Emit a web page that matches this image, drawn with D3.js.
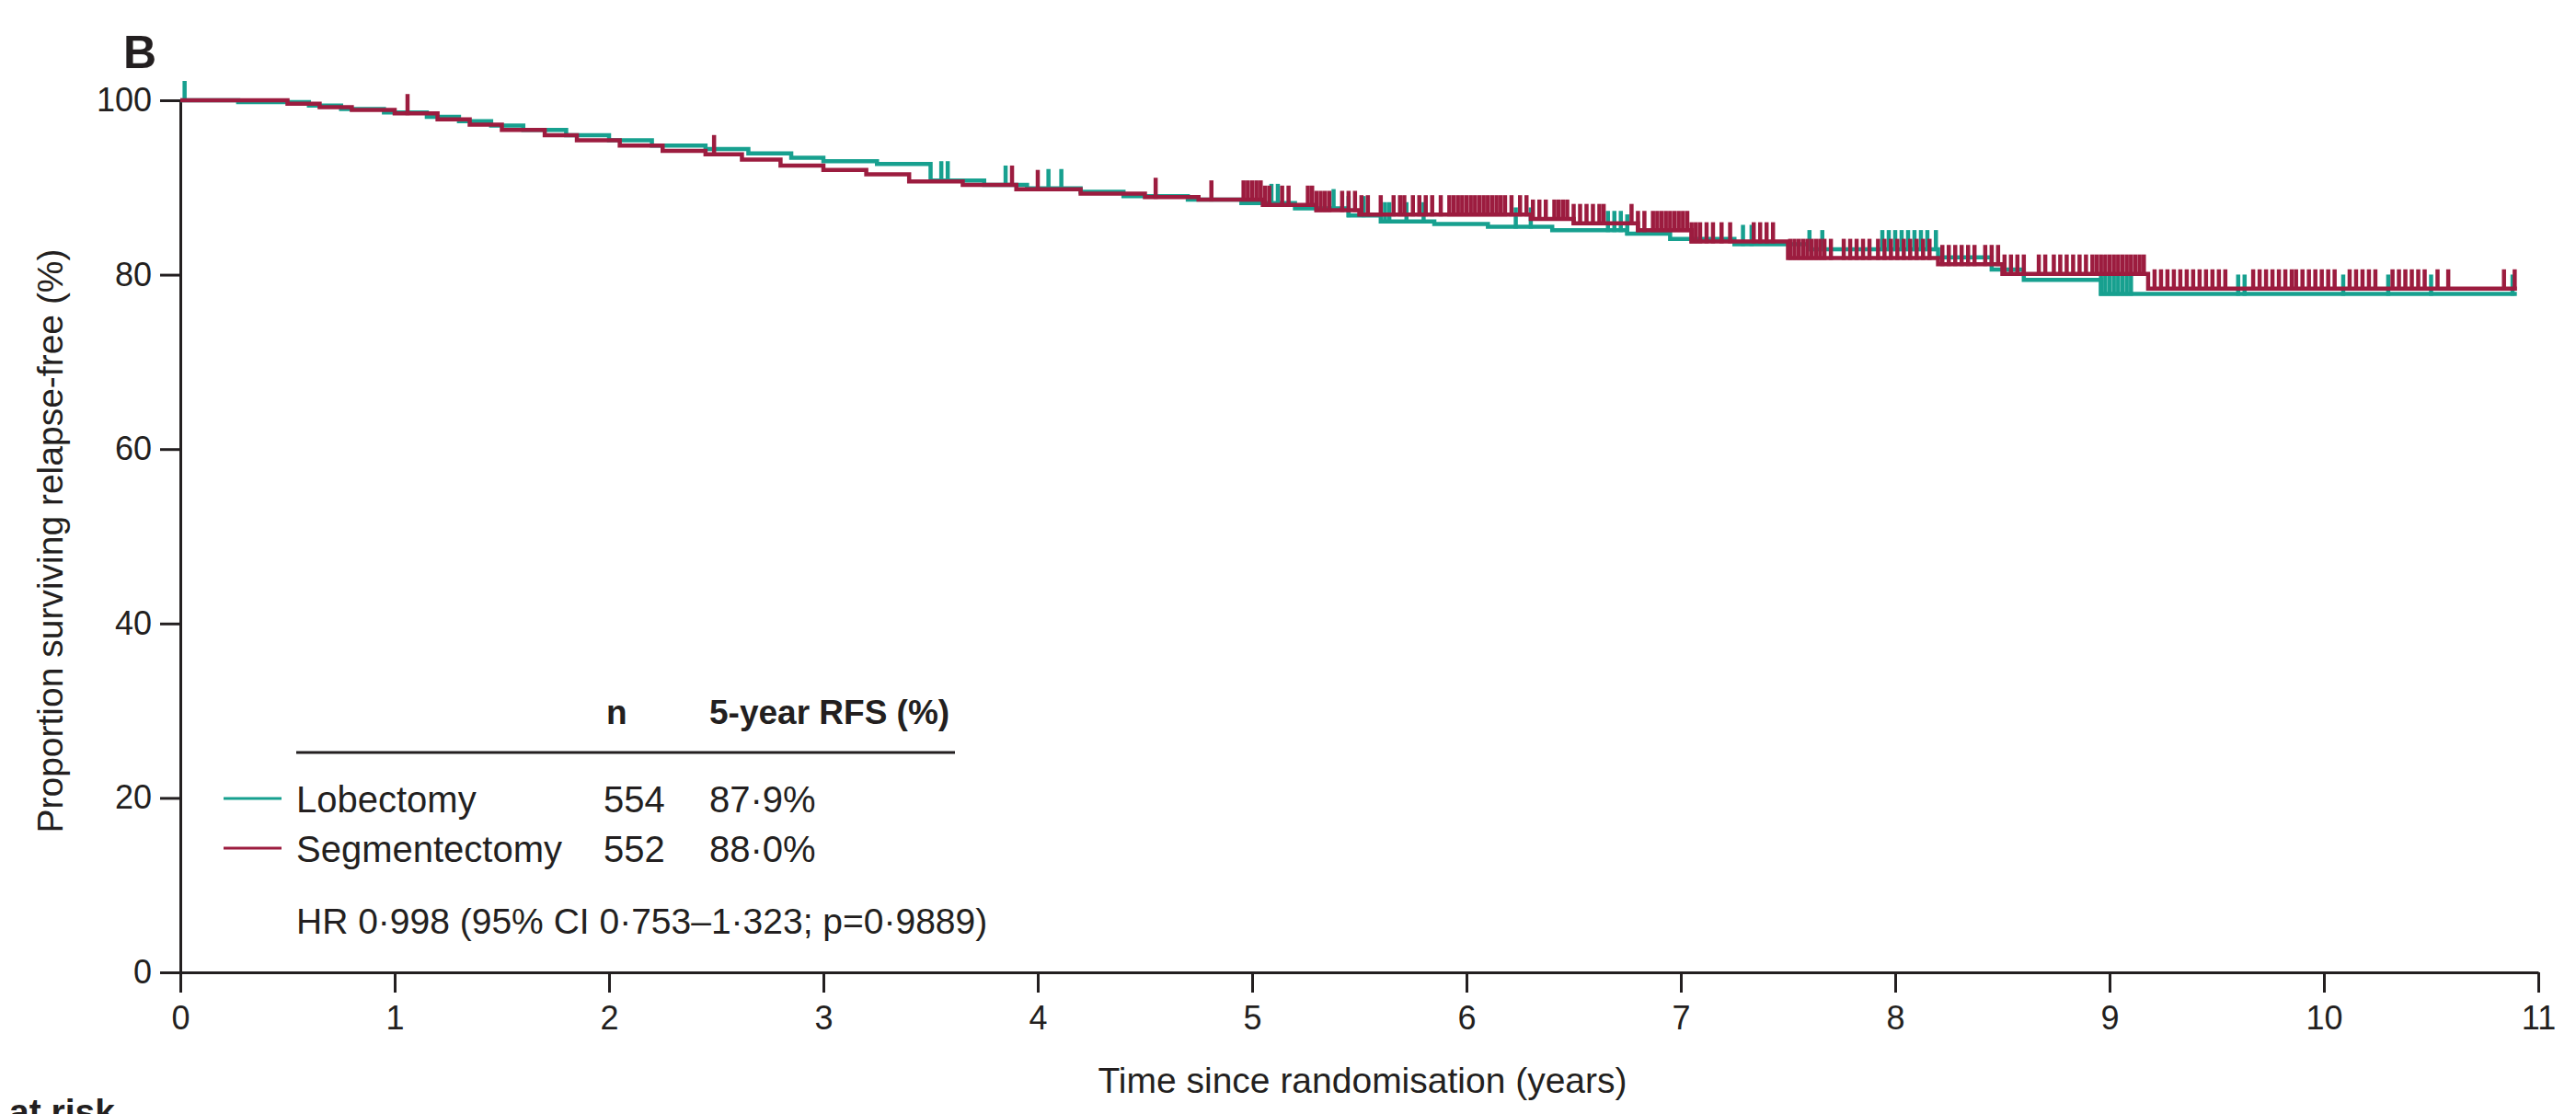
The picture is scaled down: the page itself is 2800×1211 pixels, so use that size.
<!DOCTYPE html>
<html>
<head>
<meta charset="utf-8">
<script src="https://cdn.jsdelivr.net/npm/d3@7"></script>
<style>
  body { margin: 0; background: #fff; }
  text { fill: #231f20; }
</style>
</head>
<body>
<script>
const width = 2800;
const height = 1211;
const font = "'Liberation Sans', Arial, sans-serif";
const ink = "#231f20";

const teal = "#17a08f";
const crimson = "#9c1c3f";

// Kaplan-Meier steps (years, % relapse-free)
const lobTimes = [0, 0.27, 0.6, 0.75, 0.95, 1.15, 1.3, 1.45, 1.6, 1.8, 2.0, 2.2, 2.45, 2.65, 2.85, 3.0, 3.25, 3.5, 3.75, 3.95, 4.2, 4.4, 4.7, 4.95, 5.2, 5.45, 5.6, 5.85, 6.1, 6.4, 6.75, 6.95, 7.25, 7.6, 8.2, 8.45, 8.6, 8.96, 10.9];
const lobSurv = [100, 99.8, 99.4, 99.0, 98.6, 98.1, 97.6, 97.1, 96.6, 96.0, 95.4, 94.8, 94.4, 93.9, 93.4, 93.0, 92.7, 90.8, 90.3, 89.9, 89.5, 89.0, 88.6, 88.2, 87.6, 86.8, 86.1, 85.8, 85.5, 85.1, 84.7, 84.1, 83.5, 82.9, 82.0, 80.6, 79.4, 77.8, 77.8];

const segTimes = [0, 0.5, 0.65, 0.8, 1.0, 1.2, 1.35, 1.5, 1.7, 1.85, 2.05, 2.25, 2.45, 2.62, 2.8, 3.0, 3.2, 3.4, 3.65, 3.9, 4.2, 4.5, 4.75, 5.05, 5.3, 5.5, 6.3, 6.5, 6.8, 7.05, 7.5, 8.2, 8.5, 9.18, 10.9];
const segSurv = [100, 99.6, 99.2, 98.9, 98.5, 97.8, 97.2, 96.6, 96.0, 95.4, 94.8, 94.2, 93.8, 93.2, 92.5, 92.0, 91.5, 90.7, 90.3, 89.8, 89.3, 88.9, 88.6, 88.0, 87.4, 86.9, 86.4, 85.9, 85.1, 83.8, 81.9, 81.2, 80.1, 78.4, 78.4];

// censoring marks (years)
const lobCensor = [0.02, 3.55, 3.58, 3.85, 4.05, 4.11, 5.09, 5.12, 5.38, 5.45, 5.52, 5.62, 5.64, 5.72, 5.80, 6.23, 6.30, 6.66, 6.69, 6.72, 6.75, 7.29, 7.33, 7.60, 7.66, 7.94, 7.97, 8.00, 8.03, 8.06, 8.09, 8.12, 8.15, 8.19, 8.96, 8.98, 9.00, 9.02, 9.04, 9.06, 9.08, 9.10, 9.60, 9.63, 10.09, 10.30, 10.50, 10.88];
const segCensor = [1.06, 2.49, 3.88, 4.0, 4.55, 4.81,
  4.96, 4.98, 5.0, 5.02, 5.04, 5.06, 5.08, 5.14, 5.17,
  5.26, 5.28, 5.30, 5.32, 5.34, 5.36, 5.42, 5.45, 5.48, 5.51, 5.54,
  5.60, 5.66, 5.69, 5.71, 5.75, 5.78, 5.81, 5.84, 5.88,
  5.92, 5.94, 5.96, 5.98, 6.00, 6.02, 6.04, 6.06, 6.08, 6.10, 6.12, 6.14, 6.16, 6.18, 6.21,
  6.25, 6.28, 6.31, 6.34, 6.37, 6.41, 6.43, 6.45, 6.47, 6.50, 6.53, 6.56, 6.59, 6.62, 6.64,
  6.77, 6.80, 6.83, 6.87, 6.89, 6.91, 6.93, 6.95, 6.97, 6.99, 7.01, 7.03, 7.05, 7.07, 7.09, 7.12, 7.15, 7.19, 7.23,
  7.34, 7.37, 7.40, 7.43, 7.51, 7.53, 7.55, 7.57, 7.59, 7.61, 7.63, 7.65, 7.67, 7.70,
  7.76, 7.79, 7.82, 7.85, 7.88, 7.92, 7.95, 7.98, 8.01, 8.04, 8.07, 8.10, 8.13, 8.16,
  8.22, 8.25, 8.28, 8.31, 8.34, 8.37, 8.42, 8.45, 8.48, 8.51, 8.54, 8.57, 8.60,
  8.67, 8.70, 8.74, 8.77, 8.80, 8.83, 8.86, 8.89, 8.92, 8.94,
  8.96, 8.98, 9.00, 9.02, 9.04, 9.06, 9.08, 9.10, 9.12, 9.14, 9.16,
  9.21, 9.24, 9.27, 9.30, 9.33, 9.36, 9.39, 9.42, 9.45, 9.48, 9.51, 9.54,
  9.67, 9.70, 9.73, 9.76, 9.79, 9.82, 9.85, 9.87, 9.90, 9.93, 9.96, 9.99, 10.02, 10.05,
  10.12, 10.15, 10.18, 10.21, 10.24, 10.32, 10.35, 10.38, 10.41, 10.44, 10.47,
  10.53, 10.58, 10.84, 10.89];

const xTicks = d3.range(0, 12);
const yTicks = [0, 20, 40, 60, 80, 100];

const legendNames = ["Lobectomy", "Segmentectomy"];
const legendN = ["554", "552"];
const legendRfs = ["87·9%", "88·0%"];

const margin = { top: 109, right: 41, bottom: 154, left: 196 };

const svg = d3
  .select("body")
  .append("svg")
  .attr("width", width)
  .attr("height", height)
  .attr("font-family", font);

const x = d3.scaleLinear().domain([0, 11]).range([margin.left, width - margin.right]);
const y = d3.scaleLinear().domain([0, 100]).range([height - margin.bottom, margin.top]);

// axes
const yAxis = svg
  .append("g")
  .attr("transform", `translate(${margin.left},0)`)
  .call(d3.axisLeft(y).tickValues(yTicks).tickSize(22).tickSizeOuter(0).tickPadding(9));

const xAxis = svg
  .append("g")
  .attr("transform", `translate(0,${y(0)})`)
  .call(d3.axisBottom(x).tickValues(xTicks).tickSize(22).tickSizeOuter(0).tickPadding(14));

[xAxis, yAxis].forEach((g) => {
  g.attr("font-family", font).attr("font-size", 36);
  g.selectAll("path, line").attr("stroke", ink).attr("stroke-width", 3);
  g.selectAll("text").attr("fill", ink);
});

// curves
function stepValue(times, surv, t) {
  const i = d3.bisectRight(times, t) - 1;
  return surv[Math.max(0, i)];
}

const line = d3
  .line()
  .curve(d3.curveStepAfter)
  .x((d) => x(d[0]))
  .y((d) => y(d[1]));

function drawArm(times, surv, censor, colour) {
  const g = svg.append("g");
  g.append("path")
    .datum(d3.zip(times, surv))
    .attr("fill", "none")
    .attr("stroke", colour)
    .attr("stroke-width", 4.5)
    .attr("d", line);

  g.selectAll("line")
    .data(censor)
    .join("line")
    .attr("x1", (d) => x(d))
    .attr("x2", (d) => x(d))
    .attr("y1", (d) => y(stepValue(times, surv, d)) + 2)
    .attr("y2", (d) => y(stepValue(times, surv, d)) - 21)
    .attr("stroke", colour)
    .attr("stroke-width", 4.5);
}

drawArm(lobTimes, lobSurv, lobCensor, teal);
drawArm(segTimes, segSurv, segCensor, crimson);

// titles
svg.append("text")
  .attr("x", 170)
  .attr("y", 74)
  .attr("text-anchor", "end")
  .attr("font-size", 50)
  .attr("font-weight", "bold")
  .text("B");

svg.append("text")
  .attr("transform", "translate(68,588) rotate(-90)")
  .attr("text-anchor", "middle")
  .attr("font-size", 39)
  .text("Proportion surviving relapse-free (%)");

svg.append("text")
  .attr("x", 1481)
  .attr("y", 1188)
  .attr("text-anchor", "middle")
  .attr("font-size", 39)
  .text("Time since randomisation (years)");

svg.append("text")
  .attr("x", 125)
  .attr("y", 1222)
  .attr("text-anchor", "end")
  .attr("font-size", 39)
  .attr("font-weight", "bold")
  .text("Number at risk");

// legend table
const legend = svg.append("g").attr("font-size", 40);

legend.append("text").attr("x", 659).attr("y", 787).attr("font-weight", "bold").attr("font-size", 37).text("n");
legend.append("text").attr("x", 771).attr("y", 787).attr("font-weight", "bold").attr("font-size", 37).text("5-year RFS (%)");
legend.append("line")
  .attr("x1", 322).attr("x2", 1038)
  .attr("y1", 818).attr("y2", 818)
  .attr("stroke", ink).attr("stroke-width", 3);

const rows = legend
  .selectAll("g.row")
  .data(legendNames)
  .join("g")
  .attr("class", "row")
  .attr("transform", (d, i) => `translate(0,${883 + i * 54})`);

rows.append("line")
  .attr("x1", 243).attr("x2", 306)
  .attr("y1", -15).attr("y2", -15)
  .attr("stroke", (d, i) => (i === 0 ? teal : crimson))
  .attr("stroke-width", 3);
rows.append("text").attr("x", 322).text((d) => d);
rows.append("text").attr("x", 656).text((d, i) => legendN[i]);
rows.append("text").attr("x", 771).text((d, i) => legendRfs[i]);

legend.append("text")
  .attr("x", 322)
  .attr("y", 1015)
  .attr("font-size", 39)
  .text("HR 0·998 (95% CI 0·753–1·323; p=0·9889)");
</script>
</body>
</html>
